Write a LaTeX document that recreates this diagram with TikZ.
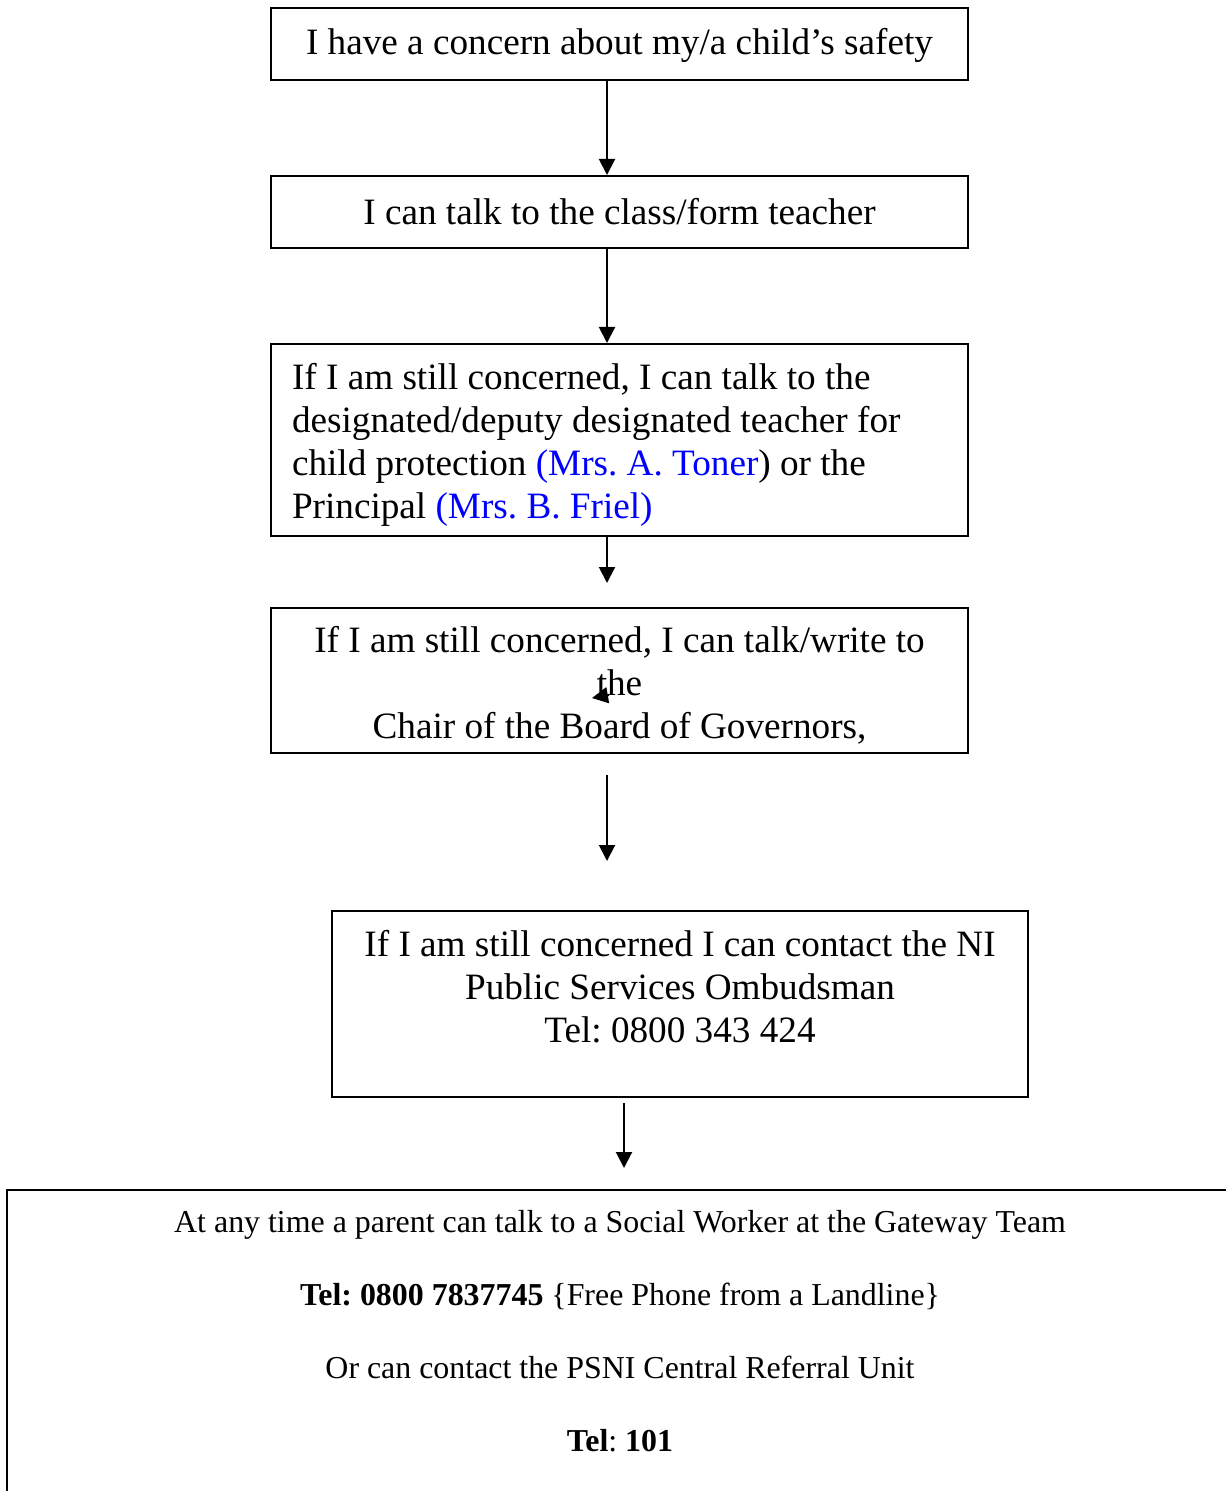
\documentclass[tikz,border=0pt]{standalone}
\usepackage{fontspec}
\setmainfont{Liberation Serif}
\frenchspacing
\usetikzlibrary{arrows.meta,positioning}
\tikzset{
    stepbox/.style={draw, line width=1pt, inner sep=0pt, minimum width=348.5pt,
        align=flush center, font=\fontsize{18.6}{21.5}\selectfont},
    arr/.style={line width=1pt, -{Triangle[width=8pt,length=8pt]}},
}
\begin{document}
\begin{tikzpicture}[x=0.5pt, y=-0.5pt]
            \useasboundingbox (0,0) rectangle (1225,1491);

            \node[stepbox, minimum height=36pt, text height=14.7pt] (concern) at (619.5, 44)
                {I have a concern about my/a child’s safety};
            \node[stepbox, minimum height=36pt] (teacher) at (619.5, 212)
                {I can talk to the class/form teacher};
            \node[stepbox, minimum height=96pt, align=flush left, text width=327.5pt, text height=18pt] (designated) at (619.5, 440)
                {If I am still concerned, I can talk to the\\
                 designated/deputy designated teacher for\\
                 child protection \textcolor{blue}{(Mrs. A. Toner}) or the\\
                 Principal \textcolor{blue}{(Mrs. B. Friel)}};
            \node[stepbox, minimum height=72.5pt, text width=348.5pt, text height=18pt] (chair) at (619.5, 680.5)
                {If I am still concerned, I can talk/write to\\ the\\ Chair of the Board of Governors,};
            \node[stepbox, minimum width=348pt, minimum height=93pt, text width=348pt, text height=16.7pt] (ombudsman) at (680, 1004)
                {If I am still concerned I can contact the NI\\ Public Services Ombudsman\\ Tel: 0800 343 424\\ \mbox{}};
            \node[draw, line width=1pt, minimum width=616.5pt, minimum height=165pt] (gateway) at (623.5, 1355) {};
            \node[align=flush center, inner sep=0pt, font=\fontsize{15.95}{36.5}\selectfont] (gatewaytext) at (620, 1331)
                {At any time a parent can talk to a Social Worker at the Gateway Team\\
                 \textbf{Tel: 0800 7837745} \{Free Phone from a Landline\}\\
                 Or can contact the PSNI Central Referral Unit\\
                 \textbf{Tel}: \textbf{101}};

            \coordinate (axis) at (607, 0);
            \coordinate (designatedtip) at (607, 583);
            \coordinate (chairtail) at (607, 775);
            \coordinate (chairtip) at (607, 861);
            \coordinate (ombudsmantail) at (624, 1103);
            \coordinate (ombudsmantip) at (624, 1168);
            \coordinate (strayTail) at (609, 695);
            \coordinate (strayTip) at (592, 698);

            \draw[arr] (concern.south -| axis) -- (teacher.north -| axis);
            \draw[arr] (teacher.south -| axis) -- (designated.north -| axis);
            \draw[arr] (designated.south -| axis) -- (designatedtip);
            \draw[arr] (chairtail) -- (chairtip);
            \draw[arr] (ombudsmantail) -- (ombudsmantip);
            \draw[arr] (strayTail) -- (strayTip);
        \end{tikzpicture}
\end{document}
